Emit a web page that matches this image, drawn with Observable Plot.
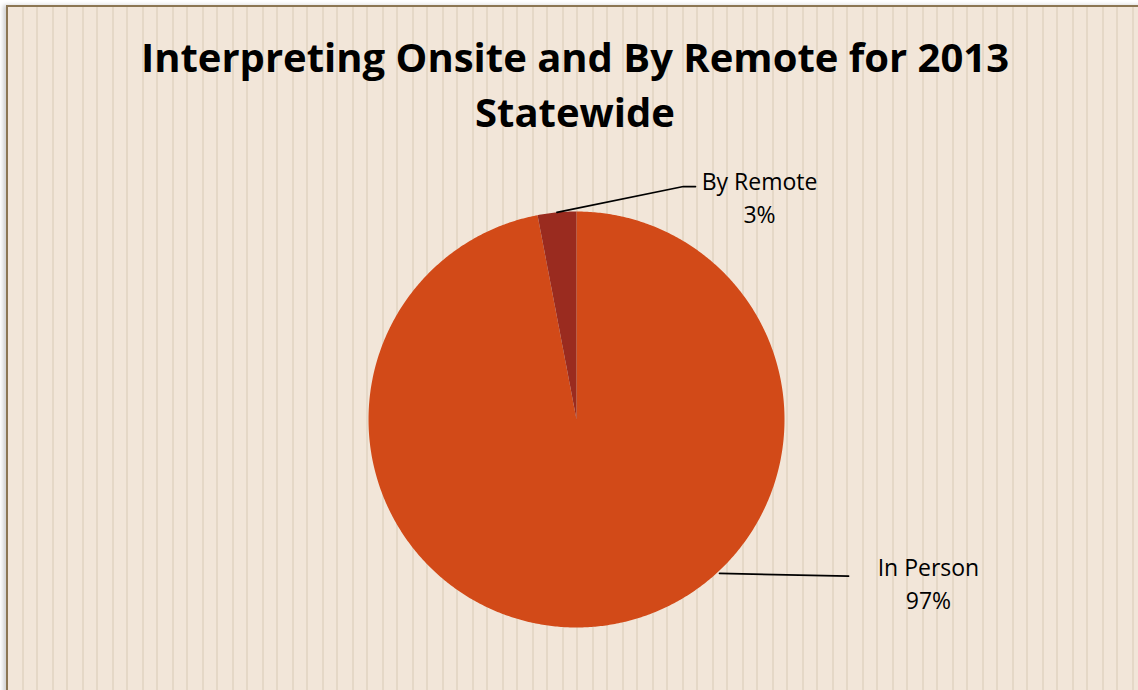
<!DOCTYPE html>
<html><head><meta charset="utf-8">
<script src="https://cdn.jsdelivr.net/npm/d3@7"></script>
<script src="https://cdn.jsdelivr.net/npm/@observablehq/plot@0.6"></script>
<style>
body{margin:0;background:#fff;}
#chart{position:relative;width:1138px;height:690px;overflow:hidden;}
#frame{position:absolute;left:6px;top:5px;width:1150px;height:700px;
  border-left:2px solid #8C7653;border-top:2px solid #8C7653;
  background-color:#F2E6D9;
  background-image:repeating-linear-gradient(90deg, rgba(0,0,0,0) 0 14px, #E5D8C7 14px 15.8px, rgba(0,0,0,0) 15.8px 27.6px, #E5D8C7 27.6px 30px);
  box-shadow:-3px 0 4px rgba(0,0,0,0.18);}
#title{position:absolute;left:0;top:29px;width:1150px;text-align:center;
  font:bold 40px/55px "Open Sans", sans-serif;color:#000;}
#plot{position:absolute;left:0;top:140px;}
</style></head>
<body>
<div id="chart">
  <div id="frame"></div>
  <div id="title">Interpreting Onsite and By Remote for 2013<br>Statewide</div>
  <div id="plot"></div>
</div>
<script>
// ---- data ----
const categories = ["In Person", "By Remote"];
const values = [97, 3];
const colors = ["#D24A18", "#9A2B1F"];

// ---- layout (pie units: radius = 1) ----
const cx = 576, cy = 279, R = 208, W = 1138, H = 550;
const labelLayout = {
  "In Person": {line: [[0.6875, -0.740], [1.308, -0.753]], text: [1.692, -0.780]},
  "By Remote": {line: [null, [0.514, 1.120], [0.572, 1.120]], text: [0.880, 1.075]}
};

const rows = categories.map((c, i) => ({name: c, value: values[i]}));
const arcs = d3.pie().sort(null).value(d => d.value).startAngle(0).endAngle(2 * Math.PI)(rows);

// slice polygons sampled from arc angles
const poly = [];
for (const a of arcs) {
  const n = Math.max(4, Math.ceil((a.endAngle - a.startAngle) / (Math.PI / 360)));
  poly.push({name: a.data.name, x: 0, y: 0});
  for (let k = 0; k <= n; k++) {
    const t = a.startAngle + (a.endAngle - a.startAngle) * k / n;
    poly.push({name: a.data.name, x: Math.sin(t), y: Math.cos(t)});
  }
  poly.push({name: a.data.name, x: 0, y: 0});
}

// leader lines
const leaders = [];
for (const a of arcs) {
  const L = labelLayout[a.data.name];
  const mid = (a.startAngle + a.endAngle) / 2;
  L.line.forEach(p => {
    const q = p ?? [Math.sin(mid), Math.cos(mid)];
    leaders.push({name: a.data.name, x: q[0], y: q[1]});
  });
}
const labels = arcs.map(a => ({
  name: a.data.name, value: a.data.value,
  x: labelLayout[a.data.name].text[0], y: labelLayout[a.data.name].text[1]
}));

const chart = Plot.plot({
  width: W, height: H, margin: 0,
  style: {background: "transparent", fontFamily: "'Open Sans', sans-serif", overflow: "visible"},
  x: {type: "linear", domain: [-1, 1], range: [cx - R, cx + R], axis: null},
  y: {type: "linear", domain: [-1, 1], range: [cy + R, cy - R], axis: null},
  color: {domain: categories, range: colors},
  marks: [
    Plot.line(poly, {x: "x", y: "y", z: "name", fill: "name", stroke: "none", curve: "linear"}),
    Plot.line(leaders, {x: "x", y: "y", z: "name", stroke: "#000", strokeWidth: 1.7}),
    Plot.text(labels, {x: "x", y: "y", text: d => `${d.name}\n${d.value}%`,
      fontSize: 23, lineHeight: 1.45, fill: "#000", textAnchor: "middle", lineAnchor: "middle"})
  ]
});
document.getElementById("plot").appendChild(chart);
</script>
</body></html>
